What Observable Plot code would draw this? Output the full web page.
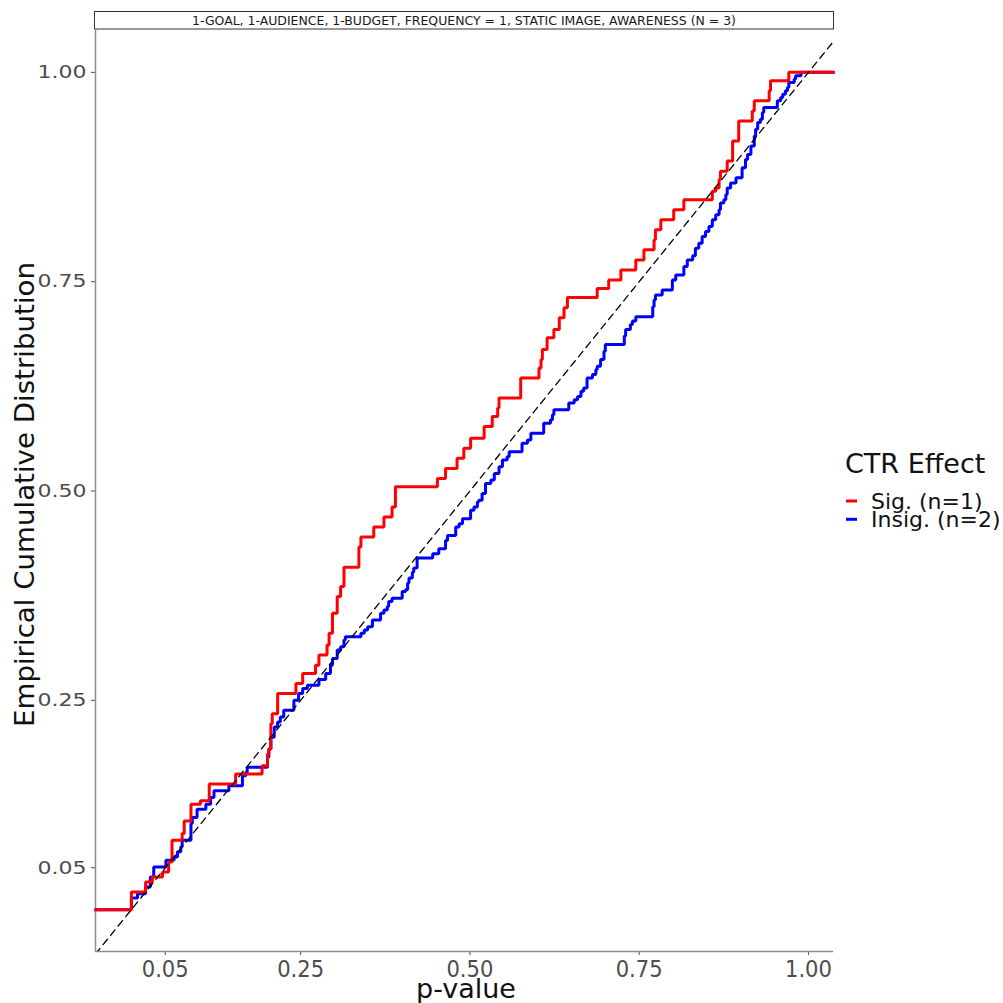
<!DOCTYPE html>
<html><head><meta charset="utf-8">
<script src="https://cdn.jsdelivr.net/npm/d3@7"></script>
<script src="https://cdn.jsdelivr.net/npm/@observablehq/plot@0.6"></script>
<style>
body{margin:0;background:#fff;}
#wrap{width:1003px;height:1003px;overflow:hidden;}
</style>
</head><body><div id="wrap"></div>
<script>
const stripLabel = "1-GOAL, 1-AUDIENCE, 1-BUDGET, FREQUENCY = 1, STATIC IMAGE, AWARENESS (N = 3)";
const xTitle = "p-value";
const yTitle = "Empirical Cumulative Distribution";
const legendTitle = "CTR Effect";
const seriesNames = ["Sig. (n=1)", "Insig. (n=2)"];
const seriesColors = ["#ff0000", "#0000ff"];
const xDomain = [-0.053, 1.037];
const yDomain = [-0.05, 1.05];
const xTicks = [0.05, 0.25, 0.5, 0.75, 1.0];
const yTicks = [0.05, 0.25, 0.5, 0.75, 1.0];

// Sig. series: p-values where the ECDF steps, and level after the step
const redX = [0.000,0.021,0.031,0.046,0.055,0.060,0.075,0.078,0.088,0.102,
  0.115,0.154,0.193,0.201,0.203,0.206,0.208,0.216,0.243,0.253,
  0.272,0.277,0.289,0.292,0.297,0.304,0.309,0.314,0.336,0.339,
  0.358,0.373,0.385,0.390,0.452,0.464,0.481,0.491,0.501,0.521,
  0.533,0.541,0.543,0.575,0.602,0.605,0.607,0.614,0.624,0.632,
  0.639,0.644,0.688,0.705,0.723,0.745,0.757,0.772,0.774,0.782,
  0.801,0.816,0.858,0.863,0.868,0.870,0.880,0.888,0.897,0.917,
  0.920,0.942,0.944,0.971];
const redY = [0.021,0.033,0.039,0.045,0.057,0.083,0.091,0.106,0.126,0.130,
  0.150,0.162,0.172,0.186,0.192,0.222,0.234,0.258,0.270,0.282,
  0.292,0.304,0.316,0.330,0.354,0.374,0.386,0.409,0.433,0.445,
  0.457,0.469,0.481,0.505,0.515,0.527,0.539,0.551,0.563,0.577,
  0.589,0.599,0.611,0.635,0.647,0.657,0.669,0.683,0.693,0.707,
  0.719,0.731,0.742,0.752,0.764,0.776,0.788,0.800,0.812,0.824,
  0.836,0.848,0.858,0.862,0.872,0.882,0.894,0.918,0.942,0.954,
  0.966,0.978,0.990,1.000];

// Insig. series
const blueX = [0.000,0.009,0.021,0.028,0.033,0.051,0.063,0.068,0.073,0.075,
  0.088,0.090,0.097,0.110,0.117,0.122,0.144,0.164,0.169,0.171,
  0.201,0.203,0.206,0.211,0.216,0.220,0.225,0.240,0.247,0.253,
  0.260,0.277,0.287,0.294,0.297,0.304,0.309,0.314,0.316,0.339,
  0.344,0.349,0.356,0.368,0.373,0.378,0.380,0.385,0.400,0.405,
  0.408,0.410,0.415,0.417,0.422,0.445,0.454,0.464,0.467,0.479,
  0.484,0.489,0.501,0.506,0.511,0.513,0.518,0.523,0.531,0.536,
  0.543,0.548,0.555,0.558,0.577,0.585,0.590,0.609,0.619,0.622,
  0.624,0.646,0.654,0.659,0.664,0.668,0.673,0.681,0.686,0.688,
  0.693,0.698,0.700,0.728,0.730,0.737,0.740,0.745,0.770,0.772,
  0.774,0.784,0.799,0.804,0.816,0.821,0.829,0.833,0.838,0.843,
  0.848,0.853,0.858,0.863,0.868,0.870,0.875,0.878,0.880,0.885,
  0.893,0.902,0.907,0.910,0.915,0.920,0.922,0.925,0.929,0.932,
  0.934,0.954,0.959,0.962,0.966,0.969,0.971,0.979,0.981,0.989];
const blueY = [0.014,0.019,0.027,0.039,0.051,0.059,0.063,0.069,0.075,0.083,
  0.103,0.110,0.120,0.126,0.134,0.142,0.148,0.160,0.164,0.170,
  0.182,0.192,0.206,0.218,0.224,0.230,0.238,0.250,0.258,0.264,
  0.268,0.275,0.282,0.292,0.300,0.310,0.314,0.322,0.326,0.330,
  0.334,0.338,0.346,0.354,0.358,0.362,0.368,0.372,0.380,0.382,
  0.390,0.396,0.403,0.408,0.420,0.425,0.431,0.441,0.447,0.457,
  0.461,0.467,0.477,0.481,0.487,0.489,0.497,0.509,0.513,0.521,
  0.529,0.537,0.541,0.547,0.557,0.561,0.569,0.581,0.585,0.591,
  0.597,0.605,0.609,0.613,0.619,0.623,0.635,0.639,0.645,0.649,
  0.657,0.667,0.675,0.685,0.693,0.699,0.703,0.708,0.720,0.728,
  0.734,0.740,0.752,0.758,0.768,0.776,0.781,0.790,0.796,0.804,
  0.810,0.816,0.824,0.830,0.836,0.844,0.848,0.854,0.862,0.868,
  0.874,0.886,0.896,0.902,0.912,0.924,0.932,0.940,0.944,0.952,
  0.958,0.966,0.970,0.974,0.978,0.982,0.988,0.992,0.996,1.000];

function ecdfRows(name, xs, ys) {
  const rows = [{series: name, x: xDomain[0], y: 0}];
  xs.forEach((x, i) => rows.push({series: name, x, y: ys[i]}));
  rows.push({series: name, x: xDomain[1], y: ys[ys.length - 1]});
  return rows;
}
const redRows = ecdfRows(seriesNames[0], redX, redY);
const blueRows = ecdfRows(seriesNames[1], blueX, blueY);
const diagRows = xDomain.map(v => ({x: v, y: v}));

const chart = Plot.plot({
  width: 1003, height: 1003,
  marginLeft: 95, marginRight: 170, marginTop: 30, marginBottom: 52,
  style: {fontFamily: "DejaVu Sans, sans-serif", color: "#4d4d4d", background: "#fff"},
  x: {domain: xDomain, ticks: xTicks, tickFormat: d3.format(".2f"), tickSize: 4, label: null},
  y: {domain: yDomain, ticks: yTicks, tickFormat: d3.format(".2f"), tickSize: 4, label: null},
  color: {domain: seriesNames, range: seriesColors},
  marks: [
    Plot.ruleX([xDomain[0]], {stroke: "#8c8c8c", strokeWidth: 1.5}),
    Plot.ruleY([yDomain[0]], {stroke: "#8c8c8c", strokeWidth: 1.5}),
    Plot.line(blueRows, {x: "x", y: "y", stroke: "series", curve: "step-after", strokeWidth: 3, strokeLinejoin: "miter"}),
    Plot.line(redRows, {x: "x", y: "y", stroke: "series", curve: "step-after", strokeWidth: 3, strokeLinejoin: "miter"}),
    Plot.line(diagRows, {x: "x", y: "y", stroke: "#000", strokeWidth: 1.3, strokeDasharray: "7,5", clip: true})
  ]
});
document.getElementById("wrap").appendChild(chart);

const svg = d3.select(chart);
let xl = svg.selectAll('[aria-label="x-axis tick label"] text');
let yl = svg.selectAll('[aria-label="y-axis tick label"] text');
xl.attr("font-size", 23).attr("textLength", 47).attr("lengthAdjust", "spacingAndGlyphs").attr("fill", "#4d4d4d");
yl.attr("font-size", 18).attr("textLength", 49).attr("lengthAdjust", "spacingAndGlyphs").attr("fill", "#4d4d4d");

const deco = svg.append("g").attr("font-family", "DejaVu Sans, sans-serif");
// facet strip
deco.append("rect").attr("x", 94.5).attr("y", 11.5).attr("width", 739).attr("height", 17.5)
  .attr("fill", "#fff").attr("stroke", "#333").attr("stroke-width", 1);
deco.append("text").attr("x", 464).attr("y", 25).attr("text-anchor", "middle")
  .attr("font-size", 11.5).attr("fill", "#1a1a1a").attr("textLength", 544)
  .attr("lengthAdjust", "spacingAndGlyphs").text(stripLabel);
// axis titles
deco.append("text").attr("transform", "translate(34,494.5) rotate(-90)").attr("text-anchor", "middle")
  .attr("font-size", 27).attr("fill", "#111").attr("textLength", 465)
  .attr("lengthAdjust", "spacingAndGlyphs").text(yTitle);
deco.append("text").attr("x", 466).attr("y", 998).attr("text-anchor", "middle")
  .attr("font-size", 27).attr("fill", "#111").text(xTitle);
// legend
deco.append("text").attr("x", 845).attr("y", 473).attr("text-anchor", "start")
  .attr("font-size", 27).attr("fill", "#111").text(legendTitle);
seriesNames.forEach((name, i) => {
  const cy = 501 + i * 18.3;
  deco.append("line").attr("x1", 846).attr("x2", 857).attr("y1", cy).attr("y2", cy)
    .attr("stroke", seriesColors[i]).attr("stroke-width", 3);
  deco.append("text").attr("x", 871).attr("y", cy + 7.5).attr("text-anchor", "start")
    .attr("font-size", 22).attr("fill", "#111").text(name);
});
</script>
</body></html>
